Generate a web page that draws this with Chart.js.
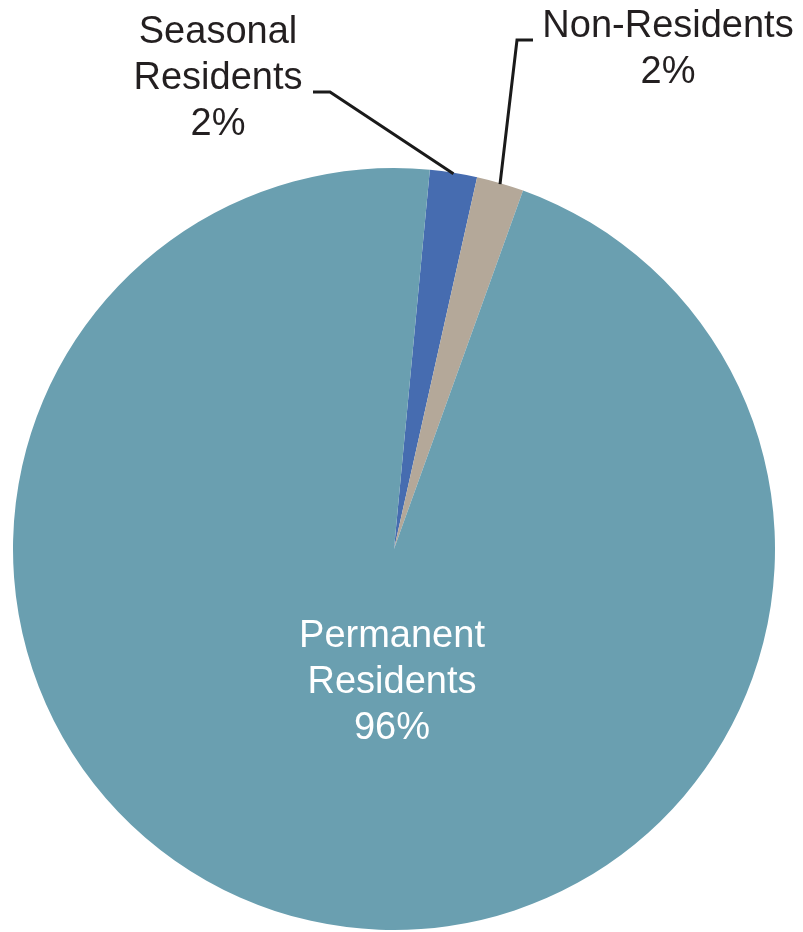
<!DOCTYPE html>
<html>
<head>
<meta charset="utf-8">
<script src="https://cdn.jsdelivr.net/npm/chart.js@4/dist/chart.umd.min.js"></script>
<style>
  html, body { margin: 0; padding: 0; background: #fff; }
  #wrap { width: 803px; height: 932px; position: relative; }
</style>
</head>
<body>
<div id="wrap"><canvas id="pie"></canvas></div>
<script>
// ── Data ────────────────────────────────────────────
const categories = ["Seasonal Residents", "Non-Residents", "Permanent Residents"];
const labelLines = [["Seasonal", "Residents"], ["Non-Residents"], ["Permanent", "Residents"]];
const shares     = [2, 2, 96];
const colors     = ["#466CB0", "#B4A899", "#6A9FB0"];

// ── Label placement (layout only) ───────────────────
// outside: text centre x, first baseline-middle y, elbow point, line end
const labelLayout = [
    { inside: false, textX: 218, textY: 33, elbow: [330, 92], end: [313, 92] },
    { inside: false, textX: 668, textY: 27, elbow: [517, 40], end: [533, 40] },
    { inside: true,  textX: 392, textY: 637 }
];

const FONT = "38px 'Liberation Sans', Arial, sans-serif";
const LINE_H = 46;

const labelPlugin = {
    id: "pieLabels",
    afterDraw(chart) {
        const ctx = chart.ctx;
        const meta = chart.getDatasetMeta(0);
        ctx.save();
        ctx.font = FONT;
        ctx.textAlign = "center";
        ctx.textBaseline = "middle";

        meta.data.forEach((arc, i) => {
            const lay = labelLayout[i];
            const lines = labelLines[i].concat([shares[i] + "%"]);

            if (!lay.inside) {
                // leader line from the slice's outer edge at mid-angle
                const mid = (arc.startAngle + arc.endAngle) / 2;
                const sx = arc.x + Math.cos(mid) * (arc.outerRadius - 1);
                const sy = arc.y + Math.sin(mid) * (arc.outerRadius - 1);
                ctx.strokeStyle = "#1a1a1a";
                ctx.lineWidth = 3;
                ctx.beginPath();
                ctx.moveTo(sx, sy);
                ctx.lineTo(lay.elbow[0], lay.elbow[1]);
                ctx.lineTo(lay.end[0], lay.end[1]);
                ctx.stroke();
                ctx.fillStyle = "#231F20";
            } else {
                ctx.fillStyle = "#ffffff";
            }

            lines.forEach((t, k) => {
                ctx.fillText(t, lay.textX, lay.textY + k * LINE_H);
            });
        });
        ctx.restore();
    }
};

new Chart(document.getElementById("pie").getContext("2d"), {
    type: "pie",
    data: {
        labels: categories,
        datasets: [{
            data: shares,
            backgroundColor: colors,
            borderWidth: 0
        }]
    },
    options: {
        responsive: true,
        maintainAspectRatio: false,
        animation: false,
        rotation: 5.4,
        layout: { padding: { left: 13, right: 28, top: 168, bottom: 2 } },
        plugins: {
            legend: { display: false },
            tooltip: { enabled: false }
        }
    },
    plugins: [labelPlugin]
});
</script>
</body>
</html>
